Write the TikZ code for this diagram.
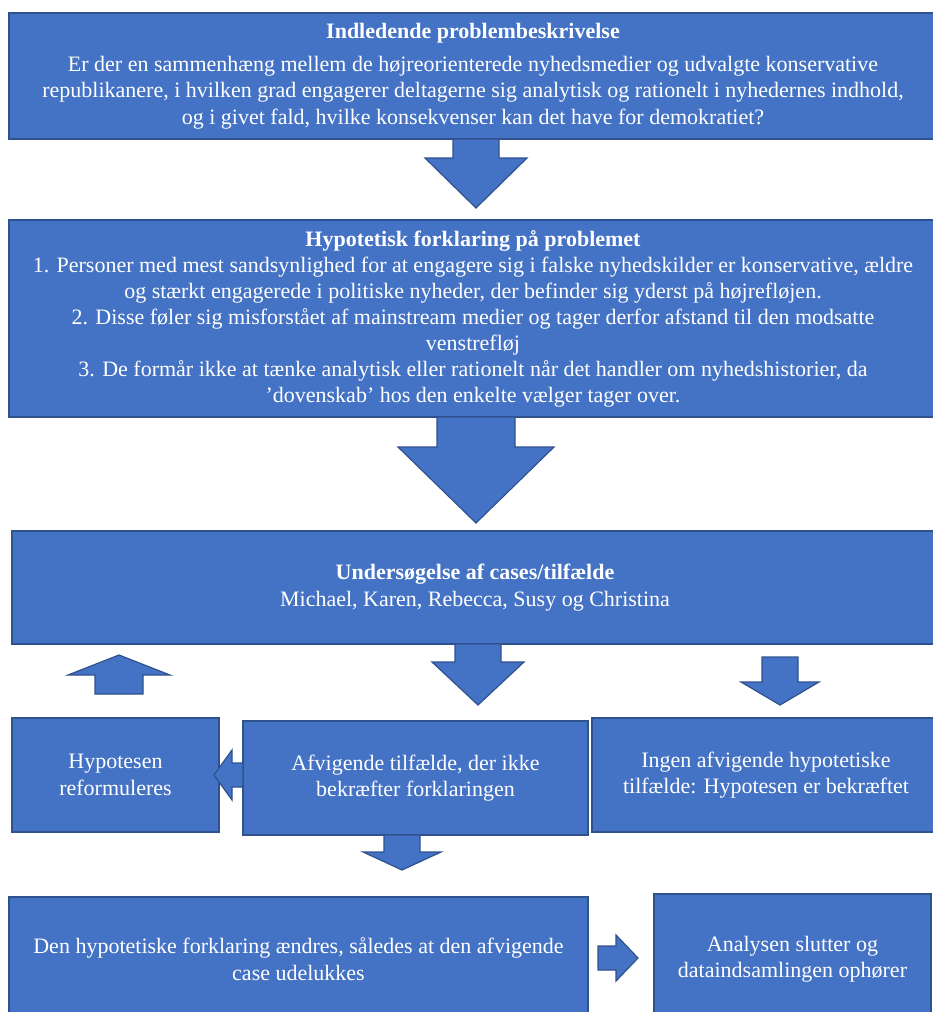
\documentclass[tikz,border=0pt]{standalone}
\usepackage{fontspec}
\setmainfont{Liberation Serif}
\definecolor{boxblue}{HTML}{4472C4}
\definecolor{boxedge}{HTML}{2F528F}
\newcommand\vblock[6]{\draw[blockarrow] (#1-#3,#2) -- (#1-#3,#4) -- (#1-#5,#4) -- (#1,#6) -- (#1+#5,#4) -- (#1+#3,#4) -- (#1+#3,#2) -- cycle;}
\newcommand\hblock[6]{\draw[blockarrow] (#2,#1-#3) -- (#4,#1-#3) -- (#4,#1-#5) -- (#6,#1) -- (#4,#1+#5) -- (#4,#1+#3) -- (#2,#1+#3) -- cycle;}
\begin{document}
\begin{tikzpicture}[x=1pt,y=-1pt,
  box/.style={draw=boxedge, fill=boxblue, line width=1.2pt, text=white, align=center,
    inner sep=0pt, font=\fontsize{22}{26.5}\selectfont},
  blockarrow/.style={draw=boxedge, fill=boxblue, line width=1.2pt, line join=miter}]
\useasboundingbox (0,0) rectangle (933,1012);
\node[box, minimum width=928pt, minimum height=126pt] (b1) at (473,76)
  {\textbf{Indledende problembeskrivelse}\\[6pt]
   Er der en sammenhæng mellem de højreorienterede nyhedsmedier og udvalgte konservative\\
   republikanere, i hvilken grad engagerer deltagerne sig analytisk og rationelt i nyhedernes indhold,\\
   og i givet fald, hvilke konsekvenser kan det have for demokratiet?};
\node[box, minimum width=928pt, minimum height=197pt, font=\fontsize{22}{26}\selectfont] (b2) at (473,318.5)
  {\textbf{Hypotetisk forklaring på problemet}\\
   1. Personer med mest sandsynlighed for at engagere sig i falske nyhedskilder er konservative, ældre\\
   og stærkt engagerede i politiske nyheder, der befinder sig yderst på højrefløjen.\\
   2. Disse føler sig misforstået af mainstream medier og tager derfor afstand til den modsatte\\
   venstrefløj\\
   3. De formår ikke at tænke analytisk eller rationelt når det handler om nyhedshistorier, da\\
   ’dovenskab’ hos den enkelte vælger tager over.};
\node[box, minimum width=926pt, minimum height=113pt] (b3) at (475,587.5)
  {\textbf{Undersøgelse af cases/tilfælde}\\
   Michael, Karen, Rebecca, Susy og Christina};
\node[box, minimum width=207pt, minimum height=114pt] (b4) at (115.5,775)
  {Hypotesen\\ reformuleres};
\node[box, minimum width=345pt, minimum height=114pt] (b5) at (415.5,778)
  {Afvigende tilfælde, der ikke\\ bekræfter forklaringen};
\node[box, minimum width=348pt, minimum height=114pt] (b6) at (766,775)
  {Ingen afvigende hypotetiske\\ tilfælde: Hypotesen er bekræftet};
\node[box, minimum width=579pt, minimum height=124pt] (b7) at (298.5,959)
  {Den hypotetiske forklaring ændres, således at den afvigende\\ case udelukkes};
\node[box, minimum width=277pt, minimum height=130pt] (b8) at (792.5,959)
  {Analysen slutter og\\ dataindsamlingen ophører};
% block arrows
\vblock{476}{139}{23}{158}{51}{208}
\vblock{476}{417}{39}{447}{78}{523}
\vblock{478}{644}{23}{662}{46}{705}
\vblock{780}{657}{18}{682}{39}{705}
\vblock{119}{694}{24}{675}{51}{655}
\hblock{775}{243}{12}{232}{25}{214}
\vblock{402}{835}{18}{852}{39}{870}
\hblock{958}{598}{12}{616}{23}{638}
\end{tikzpicture}
\end{document}
